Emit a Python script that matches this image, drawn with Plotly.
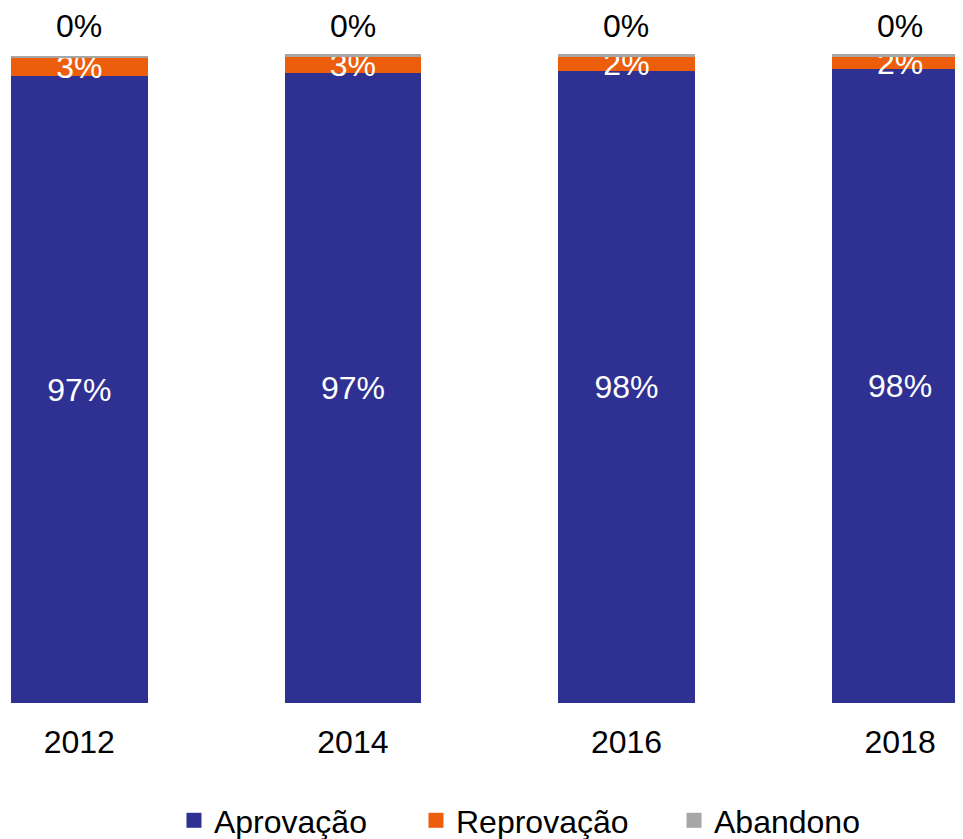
import plotly.graph_objects as go

years = ["2012", "2014", "2016", "2018"]
aprovacao = [96.7, 97.2, 97.6, 97.9]
reprovacao = [2.9, 2.55, 2.05, 1.75]
abandono = [0.3, 0.35, 0.45, 0.45]

series_names = ["Aprovação", "Reprovação", "Abandono"]
colors = ["#2E3192", "#EC5D0C", "#A6A6A6"]
FONT = "Liberation Sans, Arial, sans-serif"
FS = 32
YMAX = 100.15
legend_ids = ["legend", "legend2", "legend3"]
legend_x = [0.1738, 0.4272, 0.6974]

fig = go.Figure()
for i, (name, vals, col, tcol, show) in enumerate([
    (series_names[0], aprovacao, colors[0], "white", True),
    (series_names[1], reprovacao, colors[1], "white", True),
    (series_names[2], abandono, colors[2], "black", False),
]):
    fig.add_trace(go.Bar(
        x=years, y=vals, name=name,
        marker=dict(color=col, line=dict(width=0)),
        texttemplate="%{y:.0f}%" if show else "", textposition="inside",
        insidetextanchor="middle", textangle=0,
        constraintext="none", cliponaxis=False,
        textfont=dict(color=tcol, size=FS, family=FONT),
        showlegend=False, width=0.5,
    ))
    fig.add_trace(go.Scatter(
        x=[None], y=[None], mode="markers", name=name, legend=legend_ids[i],
        marker=dict(symbol="square", size=15, color=col),
    ))

# labels of the top segment (Abandono), above the bars
# (category axis: annotation x is the category's serial index)
for idx, v in enumerate(abandono):
    fig.add_annotation(x=idx, y=100, xref="x", yref="y",
                       text=f"{v:.0f}%", showarrow=False,
                       yanchor="middle", yshift=29,
                       font=dict(size=FS, color="black", family=FONT))

leg_common = dict(orientation="h", xref="container", yref="container",
                  xanchor="left", y=1 - 812.5 / 831, yanchor="middle",
                  font=dict(size=FS, color="black", family=FONT), itemwidth=30,
                  bgcolor="rgba(0,0,0,0)")

fig.update_layout(
    width=955, height=831,
    barmode="stack",
    paper_bgcolor="white", plot_bgcolor="white",
    margin=dict(l=0, r=0, t=46, b=136),
    font=dict(family=FONT, size=FS, color="black"),
    xaxis=dict(type="category", range=[-0.2607, 3.23], showgrid=False,
               showline=False, ticks="", ticklabelstandoff=17,
               tickfont=dict(size=FS, color="black")),
    yaxis=dict(range=[0, YMAX], visible=False),
    legend=dict(x=legend_x[0], **leg_common),
    legend2=dict(x=legend_x[1], **leg_common),
    legend3=dict(x=legend_x[2], **leg_common),
)

fig.write_html("out.html")
